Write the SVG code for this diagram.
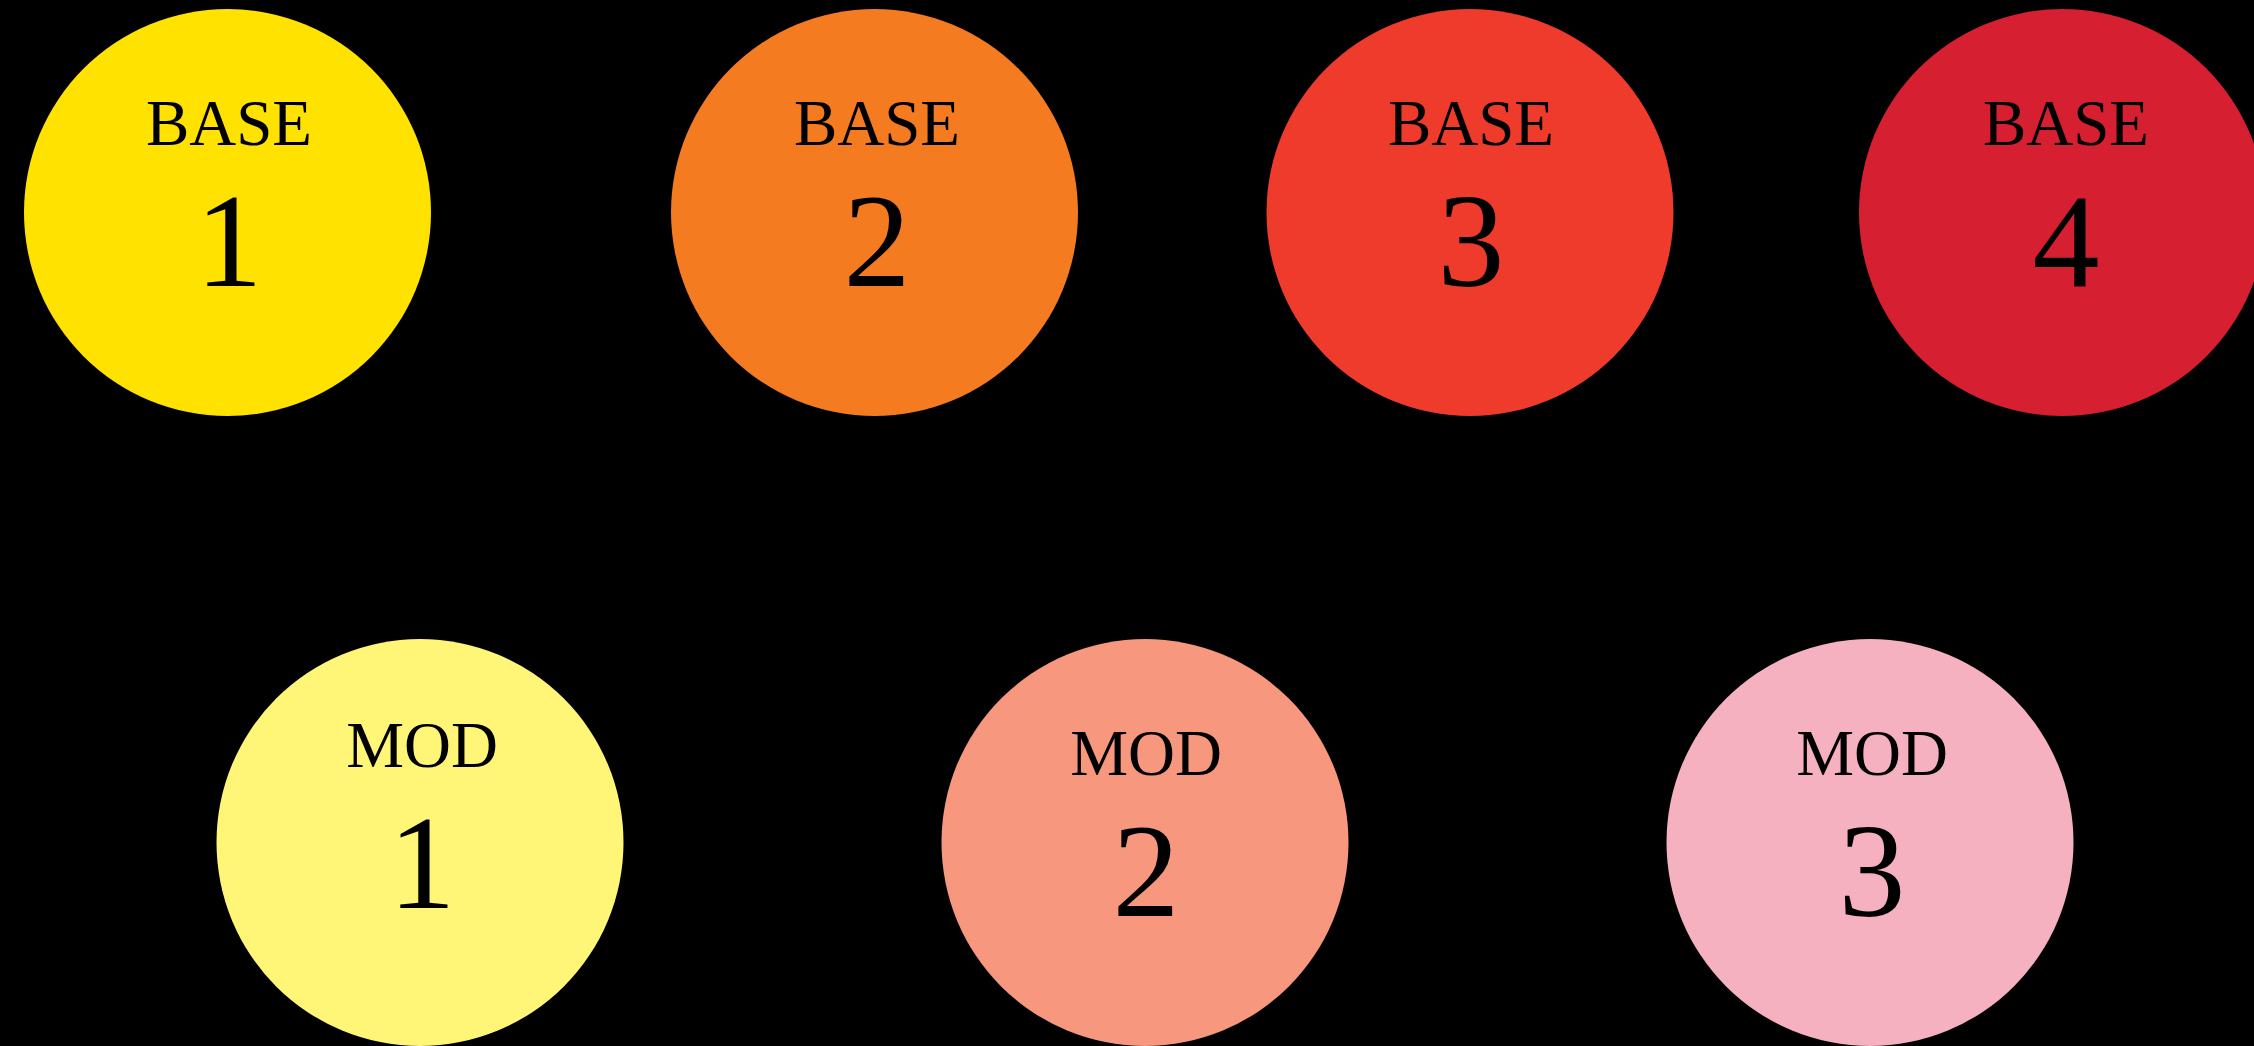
<svg xmlns="http://www.w3.org/2000/svg" width="2254" height="1046" viewBox="0 0 2254 1046">
<style>
.lbl{font-family:"Liberation Serif","Times New Roman",serif;font-size:65px;fill:#000;text-anchor:middle}
.num{font-family:"Liberation Serif","Times New Roman",serif;font-size:134px;fill:#000;text-anchor:middle}
</style>
<rect x="0" y="0" width="2254" height="1046" fill="#000"/>
<g id="connectors"/>
<g id="base1"><circle cx="227.5" cy="212.5" r="203.5" fill="#FFE200"/><text class="lbl" x="229" y="145">BASE</text><text class="num" x="229" y="286">1</text></g>
<g id="base2"><circle cx="874.5" cy="212.5" r="203.5" fill="#F47B20"/><text class="lbl" x="877" y="145">BASE</text><text class="num" x="877" y="286">2</text></g>
<g id="base3"><circle cx="1470" cy="212.5" r="203.5" fill="#EF3B2C"/><text class="lbl" x="1471" y="145">BASE</text><text class="num" x="1471" y="286">3</text></g>
<g id="base4"><circle cx="2062.5" cy="212.5" r="203.5" fill="#D71F32"/><text class="lbl" x="2066" y="145">BASE</text><text class="num" x="2066" y="286">4</text></g>
<g id="mod1"><circle cx="420" cy="842.5" r="203.5" fill="#FFF577"/><text class="lbl" x="422" y="767">MOD</text><text class="num" x="422" y="908">1</text></g>
<g id="mod2"><circle cx="1145" cy="842.5" r="203.5" fill="#F6977E"/><text class="lbl" x="1146" y="775">MOD</text><text class="num" x="1146" y="916">2</text></g>
<g id="mod3"><circle cx="1870" cy="842.5" r="203.5" fill="#F5B1BF"/><text class="lbl" x="1872" y="775">MOD</text><text class="num" x="1872" y="916">3</text></g>
</svg>
